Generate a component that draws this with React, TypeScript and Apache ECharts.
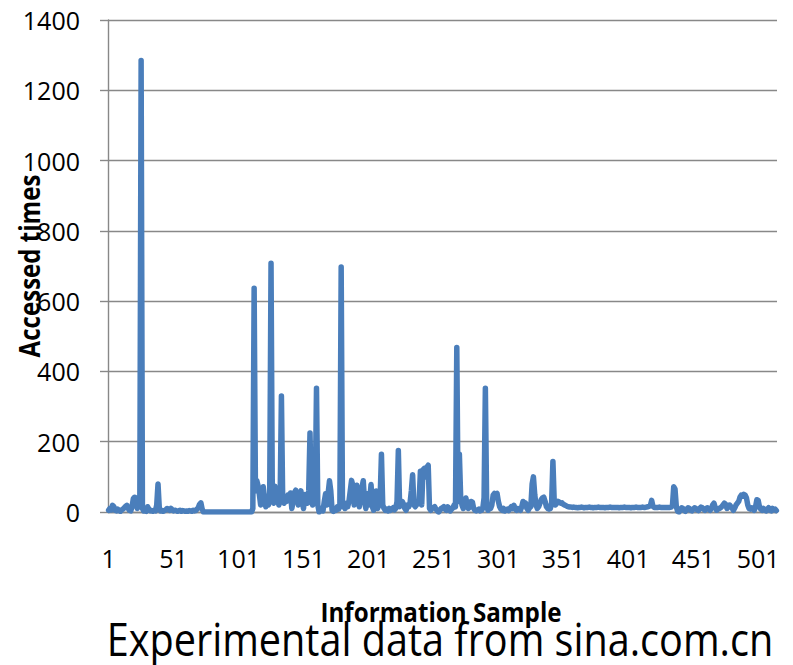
import React, { useEffect, useRef } from "react";
import * as echarts from "echarts";

// Accessed times per information sample (samples 1..515).
const samplesA: number[] = [
  5, 10, 6, 19, 15, 5, 3, 8, 4, 2,
  6, 8, 12, 16, 19, 10, 5, 3, 15, 38,
  42, 40, 10, 30, 35, 1285, 10, 3, 5, 2,
  15, 8, 3, 4, 2, 5, 3, 20, 80, 10,
  3, 5, 2, 4, 6, 10, 8, 5, 10, 6,
  3, 5, 4, 2, 3, 5, 2, 4, 3, 2,
  3, 2, 4, 3, 2, 5, 3, 4, 8, 12,
  22, 26, 8, 0, 0, 0, 0, 0, 0, 0,
  0, 0, 0, 0, 0, 0, 0, 0, 0, 0,
  0, 0, 0, 0, 0, 0, 0, 0, 0, 0,
];

const samplesB: number[] = [
  0, 0, 0, 0, 0, 0, 0, 0, 0, 0,
  0, 10, 637, 60, 90, 75, 50, 20, 60, 72,
  40, 15, 35, 20, 55, 708, 40, 25, 73, 30,
  45, 20, 35, 330, 30, 25, 43, 30, 48, 40,
  54, 10, 30, 55, 62, 40, 20, 45, 60, 30,
  10, 50, 35, 25, 60, 225, 40, 20, 60, 40,
  352, 20, 0, 5, 10, 3, 30, 52, 20, 55,
  89, 60, 5, 2, 10, 5, 15, 8, 20, 697,
  15, 20, 10, 25, 15, 30, 60, 90, 75, 20,
  60, 76, 40, 15, 50, 70, 89, 30, 10, 52,
];

const samplesC: number[] = [
  20, 35, 78, 15, 5, 30, 60, 10, 20, 40,
  164, 20, 10, 5, 8, 3, 10, 5, 8, 12,
  6, 10, 30, 175, 15, 20, 30, 22, 10, 5,
  20, 15, 25, 60, 106, 20, 15, 20, 30, 30,
  116, 20, 120, 124, 100, 128, 133, 10, 5, 12,
  12, 15, 8, 3, 0, 5, 10, 12, 15, 8,
  5, 15, 10, 3, 8, 12, 20, 15, 468, 30,
  164, 40, 20, 10, 25, 40, 20, 10, 15, 30,
  28, 10, 5, 3, 5, 8, 3, 5, 10, 40,
  352, 20, 5, 10, 10, 20, 48, 53, 50, 53,
];

const samplesD: number[] = [
  30, 15, 8, 5, 10, 3, 5, 8, 4, 10,
  15, 10, 19, 8, 5, 10, 8, 5, 15, 30,
  22, 25, 10, 5, 12, 15, 80, 100, 50, 20,
  10, 15, 25, 35, 40, 42, 30, 15, 10, 8,
  10, 25, 144, 30, 20, 25, 30, 28, 25, 26,
  22, 20, 18, 16, 15, 14, 14, 13, 14, 13,
  13, 12, 13, 13, 14, 13, 12, 13, 13, 13,
  14, 13, 13, 12, 13, 13, 13, 14, 13, 13,
  13, 13, 12, 13, 13, 13, 14, 13, 13, 13,
  13, 13, 13, 12, 13, 13, 13, 14, 13, 13,
];

const samplesE: number[] = [
  13, 13, 12, 13, 13, 13, 14, 13, 13, 13,
  13, 14, 13, 13, 14, 15, 16, 18, 33, 16,
  13, 13, 13, 13, 14, 13, 13, 13, 13, 13,
  13, 13, 13, 14, 18, 72, 65, 15, 2, 0,
  5, 12, 10, 5, 2, 8, 12, 10, 5, 3,
  8, 12, 10, 6, 4, 10, 14, 12, 8, 5,
  10, 12, 8, 5, 10, 20, 25, 12, 5, 8,
  10, 12, 15, 20, 25, 22, 10, 18, 20, 15,
  10, 5, 12, 20, 25, 30, 42, 48, 45, 50,
  48, 40, 20, 10, 8, 12, 10, 5, 15, 35,
  33, 15, 8, 5, 10, 6, 3, 8, 12, 5,
  3, 10, 6, 8, 4,
];

const accessedTimes: number[] = [
  ...samplesA,
  ...samplesB,
  ...samplesC,
  ...samplesD,
  ...samplesE,
];

// Category labels: sample numbers 1..N
const sampleNumbers: string[] = accessedTimes.map((_, i) => String(i + 1));

const yTicks = { min: 0, max: 1400, interval: 200 };

const titleText = "Experimental data from sina.com.cn";
const xName = "Information Sample";
const yName = "Accessed times";

export default function App() {
  const ref = useRef<HTMLDivElement>(null);

  useEffect(() => {
    document.body.style.margin = "0";
    if (!ref.current) return;
    const chart = echarts.init(ref.current, undefined, { renderer: "svg" });
    const gray = "#888888";
    const font = "'Open Sans', 'Noto Sans', sans-serif";
    chart.setOption({
      animation: false,
      backgroundColor: "#ffffff",
      grid: { left: 108, right: 16, top: 20, bottom: 153, containLabel: false },
      xAxis: {
        type: "category",
        data: sampleNumbers,
        boundaryGap: true,
        axisLine: { show: true, lineStyle: { color: gray, width: 1.4 } },
        axisTick: { show: false },
        axisLabel: {
          interval: 49,
          margin: 33,
          color: "#000",
          fontFamily: font,
          fontSize: 25,
        },
        splitLine: { show: false },
      },
      yAxis: {
        type: "value",
        min: yTicks.min,
        max: yTicks.max,
        interval: yTicks.interval,
        axisLine: { show: true, lineStyle: { color: gray, width: 1.4 } },
        axisTick: { show: true, length: 8, inside: false, lineStyle: { color: gray, width: 1.4 } },
        axisLabel: {
          margin: 28,
          color: "#000",
          fontFamily: font,
          fontSize: 25,
          formatter: (v: number) => String(v),
        },
        splitLine: { show: true, lineStyle: { color: gray, width: 1.4 } },
      },
      series: [
        {
          type: "line",
          data: accessedTimes,
          symbol: "none",
          lineStyle: { color: "#4a7ebb", width: 5.5, join: "round", cap: "round" },
          itemStyle: { color: "#4a7ebb" },
          z: 3,
        },
      ],
      graphic: [
        {
          type: "text",
          x: 29,
          y: 266,
          rotation: Math.PI / 2,
          scaleX: 0.86,
          z: 100,
          style: {
            text: yName,
            font: `bold 28px ${font}`,
            fill: "#000",
            textAlign: "center",
            textVerticalAlign: "middle",
          },
        },
        {
          type: "text",
          x: 441,
          y: 612,
          scaleX: 0.93,
          z: 100,
          style: {
            text: xName,
            font: `bold 26px ${font}`,
            fill: "#000",
            textAlign: "center",
            textVerticalAlign: "middle",
          },
        },
        {
          type: "text",
          x: 440,
          y: 638,
          scaleX: 0.88,
          z: 100,
          style: {
            text: titleText,
            font: `45px ${font}`,
            fill: "#000",
            textAlign: "center",
            textVerticalAlign: "middle",
          },
        },
      ],
    });
    return () => chart.dispose();
  }, []);

  return <div ref={ref} style={{ width: 793, height: 665 }} />;
}
